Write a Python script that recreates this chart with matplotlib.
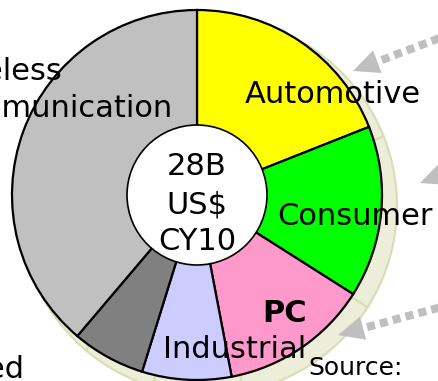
"""Donut chart of a 28B US$ (CY10) market split by application segment."""

import numpy as np
import matplotlib.pyplot as plt
from matplotlib.patches import Circle, Polygon

# === DATA ===

segments = ["Automotive", "Consumer", "PC", "Industrial", "Wired", "Wireless Communication"]
shares = [19, 15, 13, 7.8, 6.4, 38.8]
colors = ["#FFFF00", "#00FF00", "#FF99CC", "#CCCCFF", "#808080", "#C0C0C0"]
center_lines = ["28B", "US$", "CY10"]

# === LAYOUT (pixel units, y measured from the bottom) ===

W, H = 439, 381
CX, CY = 197, 186
R_OUT, R_IN = 185, 70
FS = 22


def py(y_from_top):
    """Convert a pixel row measured from the top into axis units."""
    return H - y_from_top


def dashed_arrow(ax, tail, tip, head_len=26, head_w=24, color="#BFBFBF"):
    """Draw a thick square-dotted line ending in a filled arrowhead."""
    tail = np.array(tail, float)
    tip = np.array(tip, float)
    u = (tail - tip) / np.linalg.norm(tail - tip)
    n = np.array([-u[1], u[0]])
    base = tip + u * head_len
    ax.plot([tail[0], base[0]], [tail[1], base[1]], color=color, lw=5.8,
            dashes=(1.0, 0.65), solid_capstyle="butt", dash_capstyle="butt", zorder=1)
    ax.add_patch(Polygon([tip, base + n * head_w / 2, base - n * head_w / 2],
                         closed=True, fc=color, ec="none", zorder=1))


fig = plt.figure(figsize=(W / 100, H / 100), dpi=100)
ax = fig.add_axes([0, 0, 1, 1])

# shadow ring behind the donut
ax.pie(shares, colors=["#ECEEDA"] * len(shares), startangle=90, counterclock=False,
       center=(CX + 11, CY - 11), radius=R_OUT + 4,
       wedgeprops=dict(edgecolor="#D8DDB4", linewidth=1.5, zorder=0))

ax.pie(shares, colors=colors, startangle=90, counterclock=False,
       center=(CX, CY), radius=R_OUT,
       wedgeprops=dict(edgecolor="black", linewidth=1.6, zorder=2))

ax.add_patch(Circle((CX, CY), R_IN, fc="white", ec="black", lw=1.2, zorder=3))

for line, base in zip(center_lines, [175, 213, 250]):
    ax.text(CX, py(base), line, ha="center", va="baseline", fontsize=FS, zorder=4)

# segment labels
ax.text(333, py(103), segments[0], ha="center", va="baseline", fontsize=FS, zorder=4)
ax.text(355, py(225), segments[1], ha="center", va="baseline", fontsize=FS, zorder=4)
ax.text(285, py(322), segments[2], ha="center", va="baseline", fontsize=FS,
        fontweight="bold", zorder=4)
ax.text(163, py(358), segments[3], ha="left", va="baseline", fontsize=FS, zorder=4)
ax.text(25, py(378), segments[4], ha="right", va="baseline", fontsize=FS, zorder=4)
ax.text(63, py(80), "Wireless", ha="right", va="baseline", fontsize=FS, zorder=4)
ax.text(173, py(117), "Communication", ha="right", va="baseline", fontsize=FS, zorder=4)
ax.text(308, py(375), "Source:", ha="left", va="baseline", fontsize=18, zorder=4)

# callout arrows
dashed_arrow(ax, (445, py(36)), (353, py(71)))
dashed_arrow(ax, (470, py(164)), (420, py(183)))
dashed_arrow(ax, (445, py(306)), (338, py(335)))

ax.set_xlim(0, W)
ax.set_ylim(0, H)
ax.set_aspect("auto")
ax.axis("off")

fig.savefig("out.png", dpi=100)
